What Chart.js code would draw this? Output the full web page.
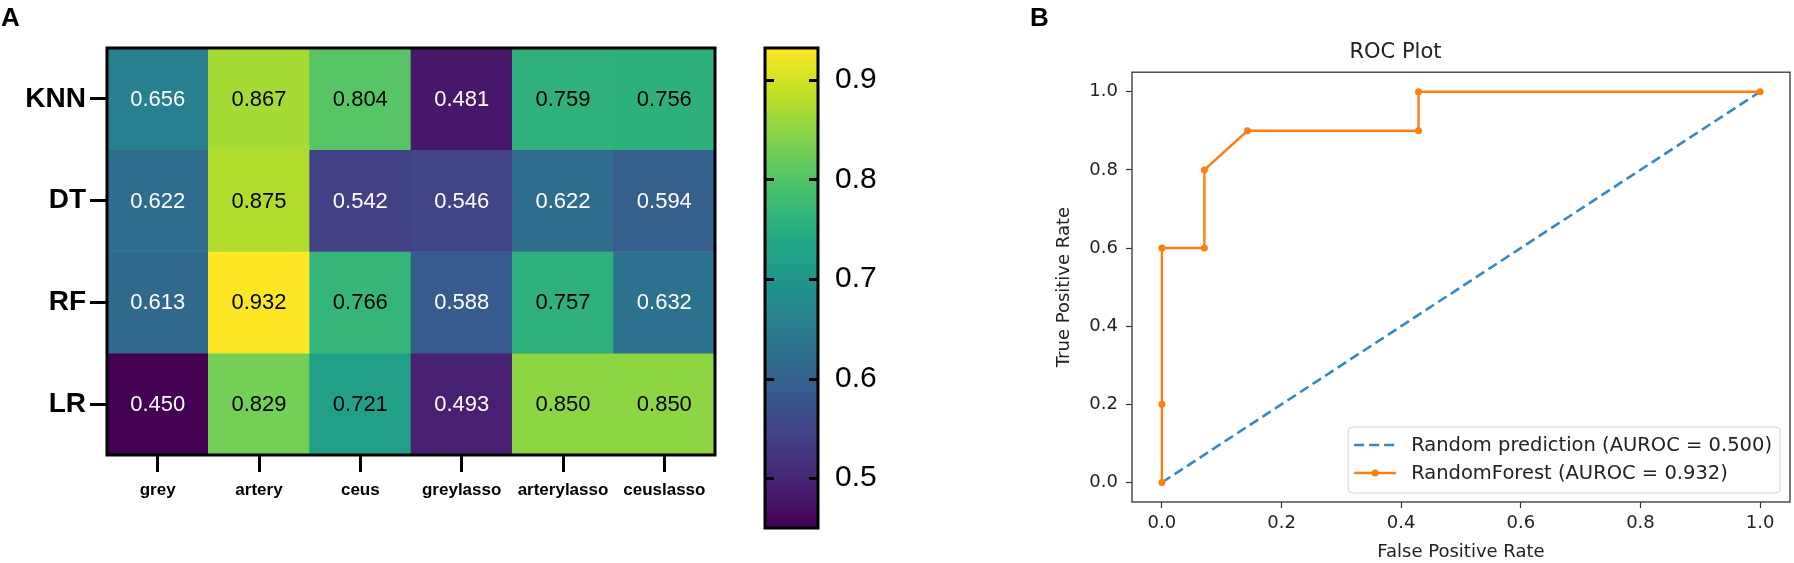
<!DOCTYPE html>
<html lang="en">
<head>
  <meta charset="UTF-8" />
  <title>Heatmap and ROC Plot</title>
  <script src="https://cdn.jsdelivr.net/npm/chart.js"></script>
  <style>
    body { margin: 0; background: #fff; }
    #page { position: relative; width: 1794px; height: 563px; overflow: hidden; background: #fff; }
    .panel { position: absolute; top: 0; height: 563px; }
  </style>
</head>
<body>
<div id="page">
  <div class="panel" style="left:0;width:720px"><canvas id="heatmap"></canvas></div>
  <div class="panel" style="left:720px;width:200px"><canvas id="colorbar"></canvas></div>
  <div class="panel" style="left:1000px;width:794px"><canvas id="roc"></canvas></div>
</div>

<script>
  // ---- data ----
  const models = ['KNN', 'DT', 'RF', 'LR'];
  const features = ['grey', 'artery', 'ceus', 'greylasso', 'arterylasso', 'ceuslasso'];
  const knnScores = [0.656, 0.867, 0.804, 0.481, 0.759, 0.756];
  const dtScores  = [0.622, 0.875, 0.542, 0.546, 0.622, 0.594];
  const rfScores  = [0.613, 0.932, 0.766, 0.588, 0.757, 0.632];
  const lrScores  = [0.450, 0.829, 0.721, 0.493, 0.850, 0.850];
  const colorbarTicks = [0.5, 0.6, 0.7, 0.8, 0.9];

  const randomFpr = [0, 1];
  const randomTpr = [0, 1];
  const rfFpr = [0, 0, 0, 0.071, 0.071, 0.143, 0.429, 0.429, 1.0];
  const rfTpr = [0, 0.2, 0.6, 0.6, 0.8, 0.9, 0.9, 1.0, 1.0];
  const rocTicks = [0, 0.2, 0.4, 0.6, 0.8, 1.0];

  const scoreRows = [knnScores, dtScores, rfScores, lrScores];
  const vmin = Math.min(...scoreRows.flat());
  const vmax = Math.max(...scoreRows.flat());

  // viridis samples at 0, 0.1 ... 1
  const viridisStops = ['#440154', '#482475', '#414487', '#355f8d', '#2a788e', '#21918c',
                        '#22a884', '#44bf70', '#7ad151', '#bddf26', '#fde725'];

  function hexToRgb(h) {
    return [parseInt(h.slice(1, 3), 16), parseInt(h.slice(3, 5), 16), parseInt(h.slice(5, 7), 16)];
  }
  function viridis(v) {
    let t = (v - vmin) / (vmax - vmin);
    t = Math.max(0, Math.min(1, t));
    const p = t * (viridisStops.length - 1);
    const i = Math.min(Math.floor(p), viridisStops.length - 2);
    const f = p - i;
    const a = hexToRgb(viridisStops[i]), b = hexToRgb(viridisStops[i + 1]);
    const c = a.map((x, k) => Math.round(x + (b[k] - x) * f));
    return `rgb(${c[0]}, ${c[1]}, ${c[2]})`;
  }

  // check for a narrow font for the feature labels
  function fontAvailable(name) {
    const c = document.createElement('canvas').getContext('2d');
    c.font = 'bold 20px monospace';
    const w1 = c.measureText('arterylasso').width;
    c.font = `bold 20px "${name}", monospace`;
    return c.measureText('arterylasso').width !== w1;
  }
  const featureFont = fontAvailable('Liberation Sans Narrow')
    ? { family: '"Liberation Sans Narrow"', size: 21, weight: 'bold' }
    : { family: '"Liberation Sans", Arial', size: 17, weight: 'bold' };

  Chart.defaults.animation = false;
  Chart.defaults.devicePixelRatio = 1;

  // ---- plugins ----
  const frame = {
    id: 'frame',
    afterDraw(chart, args, opts) {
      const { ctx, chartArea: a } = chart;
      ctx.save();
      ctx.strokeStyle = opts.color;
      ctx.lineWidth = opts.width;
      ctx.strokeRect(a.left, a.top, a.right - a.left, a.bottom - a.top);
      ctx.restore();
    }
  };

  const panelLabel = {
    id: 'panelLabel',
    afterDraw(chart, args, opts) {
      if (!opts.text) return;
      const ctx = chart.ctx;
      ctx.save();
      ctx.font = 'bold 26px "Liberation Sans", Arial';
      ctx.fillStyle = '#000';
      ctx.textBaseline = 'alphabetic';
      ctx.fillText(opts.text, opts.x, opts.y);
      ctx.restore();
    }
  };

  const cellLabels = {
    id: 'cellLabels',
    afterDatasetsDraw(chart) {
      const ctx = chart.ctx;
      ctx.save();
      ctx.font = '22px "Liberation Sans", Arial';
      ctx.textAlign = 'center';
      ctx.textBaseline = 'middle';
      chart.data.datasets.forEach((ds, di) => {
        chart.getDatasetMeta(di).data.forEach((bar, i) => {
          const v = ds.scores[i];
          ctx.fillStyle = v > (vmin + vmax) / 2 ? '#000' : '#fff';
          ctx.fillText(v.toFixed(3), bar.x, (bar.y + bar.base) / 2 + 1);
        });
      });
      ctx.restore();
    }
  };

  const colorbarTickMarks = {
    id: 'colorbarTickMarks',
    afterDatasetsDraw(chart) {
      const { ctx, chartArea: a } = chart;
      const y = chart.scales.y;
      ctx.save();
      ctx.strokeStyle = '#000';
      ctx.lineWidth = 3;
      colorbarTicks.forEach(t => {
        const py = Math.round(y.getPixelForValue(t)) + 0.5;
        ctx.beginPath();
        ctx.moveTo(a.left, py); ctx.lineTo(a.left + 9, py);
        ctx.moveTo(a.right - 9, py); ctx.lineTo(a.right, py);
        ctx.stroke();
      });
      ctx.restore();
    }
  };

  const rocLegend = {
    id: 'rocLegend',
    afterDraw(chart) {
      const { ctx, chartArea: a } = chart;
      const items = chart.data.datasets;
      ctx.save();
      ctx.font = '19.5px "DejaVu Sans"';
      const textW = Math.max(...items.map(d => ctx.measureText(d.label).width));
      const rowH = 28;
      const w = 63 + textW + 8;
      const h = 18 + rowH * (items.length - 1) + 20;
      const x0 = a.right - 10 - w;
      const y0 = a.bottom - 9 - h;
      ctx.beginPath();
      ctx.roundRect(x0, y0, w, h, 4);
      ctx.fillStyle = 'rgba(255,255,255,0.8)';
      ctx.fill();
      ctx.strokeStyle = '#d6d6d6';
      ctx.lineWidth = 1;
      ctx.stroke();
      items.forEach((d, i) => {
        const cy = y0 + 18 + i * rowH;
        ctx.strokeStyle = d.borderColor;
        ctx.lineWidth = d.borderWidth;
        ctx.setLineDash(d.borderDash || []);
        ctx.beginPath();
        ctx.moveTo(x0 + 6, cy); ctx.lineTo(x0 + 48, cy);
        ctx.stroke();
        ctx.setLineDash([]);
        if (d.pointRadius > 0) {
          ctx.fillStyle = d.pointBackgroundColor;
          ctx.beginPath();
          ctx.arc(x0 + 27, cy, d.pointRadius, 0, Math.PI * 2);
          ctx.fill();
        }
        ctx.fillStyle = '#222';
        ctx.textBaseline = 'middle';
        ctx.fillText(d.label, x0 + 63, cy + 1);
      });
      ctx.restore();
    }
  };

  // ---- panel A: heatmap ----
  new Chart(document.getElementById('heatmap'), {
    type: 'bar',
    data: {
      labels: features,
      datasets: models.map((m, r) => ({
        label: m,
        scores: scoreRows[r],
        data: scoreRows[r].map(() => [r, r + 1]),
        backgroundColor: scoreRows[r].map(viridis),
        borderWidth: 0,
        borderSkipped: false,
        barPercentage: 1,
        categoryPercentage: 1,
        grouped: false
      }))
    },
    options: {
      responsive: true,
      maintainAspectRatio: false,
      layout: { padding: { top: 48, right: 5 } },
      plugins: {
        legend: { display: false },
        tooltip: { enabled: false },
        frame: { color: '#000', width: 3 },
        panelLabel: { text: 'A', x: 1, y: 26 }
      },
      scales: {
        x: {
          type: 'category',
          offset: true,
          grid: { offset: false, drawOnChartArea: false, drawTicks: true, tickLength: 17, tickWidth: 3, tickColor: '#000' },
          border: { display: false },
          ticks: { color: '#000', font: featureFont, padding: 8, maxRotation: 0, autoSkip: false },
          afterFit(scale) { scale.height = 563 - 455; }
        },
        y: {
          type: 'linear',
          min: 0,
          max: models.length,
          reverse: true,
          grid: { drawOnChartArea: false, drawTicks: true, tickLength: 17, tickWidth: 3, tickColor: '#000' },
          border: { display: false },
          afterBuildTicks(scale) { scale.ticks = models.map((m, i) => ({ value: i + 0.5 })); },
          ticks: {
            color: '#000',
            font: { family: '"Liberation Sans", Arial', size: 28, weight: 'bold' },
            padding: 4,
            callback: (v) => models[Math.floor(v)]
          },
          afterFit(scale) { scale.width = 107; }
        }
      }
    },
    plugins: [cellLabels, frame, panelLabel]
  });

  // ---- panel A: colorbar ----
  new Chart(document.getElementById('colorbar'), {
    type: 'bar',
    data: {
      labels: ['scale'],
      datasets: [{
        data: [[vmin, vmax]],
        borderWidth: 0,
        borderSkipped: false,
        barPercentage: 1,
        categoryPercentage: 1,
        backgroundColor(ctx) {
          const y = ctx.chart.scales.y;
          const p0 = y ? y.getPixelForValue(vmin) : NaN;
          const p1 = y ? y.getPixelForValue(vmax) : NaN;
          if (!Number.isFinite(p0) || !Number.isFinite(p1)) return viridis((vmin + vmax) / 2);
          const g = ctx.chart.ctx.createLinearGradient(0, p0, 0, p1);
          viridisStops.forEach((c, i) => g.addColorStop(i / (viridisStops.length - 1), c));
          return g;
        }
      }]
    },
    options: {
      responsive: true,
      maintainAspectRatio: false,
      layout: { padding: { top: 48, left: 45 } },
      plugins: {
        legend: { display: false },
        tooltip: { enabled: false },
        frame: { color: '#000', width: 3 }
      },
      scales: {
        x: { display: false, offset: true },
        y: {
          position: 'right',
          min: vmin,
          max: vmax,
          grid: { drawOnChartArea: false, drawTicks: false },
          border: { display: false },
          afterBuildTicks(scale) { scale.ticks = colorbarTicks.map(v => ({ value: v })); },
          ticks: {
            color: '#000',
            font: { family: '"Liberation Sans", Arial', size: 30 },
            padding: 17,
            callback: (v) => v.toFixed(1)
          },
          afterFit(scale) { scale.width = 102; }
        }
      }
    },
    plugins: [colorbarTickMarks, frame]
  });

  // ---- panel B: ROC ----
  const rocTickFont = { family: '"DejaVu Sans"', size: 18 };
  new Chart(document.getElementById('roc'), {
    type: 'scatter',
    data: {
      datasets: [
        {
          label: 'Random prediction (AUROC = 0.500)',
          data: randomFpr.map((x, i) => ({ x, y: randomTpr[i] })),
          showLine: true,
          borderColor: '#3389c8',
          borderWidth: 2.6,
          borderDash: [10, 5],
          pointRadius: 0,
          order: 1
        },
        {
          label: 'RandomForest (AUROC = 0.932)',
          data: rfFpr.map((x, i) => ({ x, y: rfTpr[i] })),
          showLine: true,
          borderColor: '#ff7f0e',
          borderWidth: 2.4,
          pointRadius: 3.5,
          pointBackgroundColor: '#ff7f0e',
          pointBorderWidth: 0,
          order: 0
        }
      ]
    },
    options: {
      responsive: true,
      maintainAspectRatio: false,
      layout: { padding: { right: 3 } },
      plugins: {
        legend: { display: false },
        tooltip: { enabled: false },
        title: {
          display: true,
          text: 'ROC Plot',
          color: '#222',
          font: { family: '"DejaVu Sans"', size: 21, weight: 'normal' },
          padding: { top: 40, bottom: 7 }
        },
        frame: { color: '#333', width: 1.3 },
        panelLabel: { text: 'B', x: 30, y: 26 }
      },
      scales: {
        x: {
          type: 'linear',
          min: -0.05,
          max: 1.05,
          afterBuildTicks(scale) { scale.ticks = rocTicks.map(v => ({ value: v })); },
          grid: { drawOnChartArea: false, tickLength: 6, tickWidth: 1.2, tickColor: '#333' },
          border: { display: false },
          ticks: { color: '#222', font: rocTickFont, padding: 5, callback: (v) => v.toFixed(1) },
          title: { display: true, text: 'False Positive Rate', color: '#222', font: rocTickFont, padding: { top: 0, bottom: 0 } },
          afterFit(scale) { scale.height = 563 - 502; }
        },
        y: {
          type: 'linear',
          min: -0.05,
          max: 1.05,
          afterBuildTicks(scale) { scale.ticks = rocTicks.map(v => ({ value: v })); },
          grid: { drawOnChartArea: false, tickLength: 6, tickWidth: 1.2, tickColor: '#333' },
          border: { display: false },
          ticks: { color: '#222', font: rocTickFont, padding: 8, callback: (v) => v.toFixed(1) },
          title: { display: true, text: 'True Positive Rate', color: '#222', font: rocTickFont, padding: { top: 54, bottom: 0 } },
          afterFit(scale) { scale.width = 132; }
        }
      }
    },
    plugins: [frame, rocLegend, panelLabel]
  });
</script>
</body>
</html>
